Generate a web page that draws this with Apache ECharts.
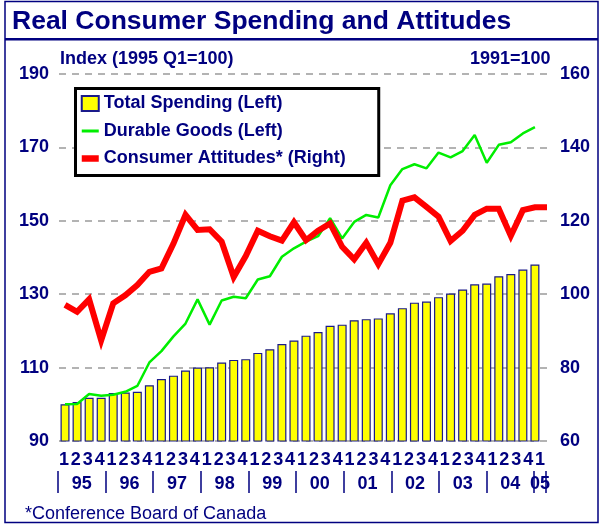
<!DOCTYPE html>
<html>
<head>
    <meta charset="utf-8" />
    <title>Real Consumer Spending and Attitudes</title>
    <script type="text/javascript" src="https://cdn.jsdelivr.net/npm/echarts@6/dist/echarts.min.js"></script>
    <style>
        html, body { margin: 0; padding: 0; background: #fff; }
        #chart { width: 603px; height: 525px; }
    </style>
</head>
<body>
    <div id="chart"></div>
    <script type="text/javascript">
        // quarters 1995 Q1 .. 2005 Q1
        var years = ['95', '96', '97', '98', '99', '00', '01', '02', '03', '04', '05'];
        var quarterLabels = ['1', '2', '3', '4'];

        // Total Spending (Left), index 1995 Q1 = 100
        var totalSpending = [100.0, 100.6, 101.8, 101.8, 103.1, 103.2, 103.4, 105.2, 106.9, 107.8,
            109.2, 110.0, 110.1, 111.4, 112.1, 112.3, 114.0, 115.0, 116.4, 117.4,
            118.7, 119.7, 121.4, 121.7, 122.9, 123.2, 123.4, 124.8, 126.2, 127.7,
            128.0, 129.2, 130.2, 131.3, 132.7, 132.9, 134.9, 135.5, 136.7, 138.1];
        // Durable Goods (Left)
        var durableGoods = [100.0, 100.1, 102.8, 102.3, 102.6, 103.4, 105.0, 111.4, 114.5, 118.5,
            122.0, 128.6, 121.7, 128.3, 129.3, 128.9, 134.0, 134.9, 140.2, 142.5,
            144.3, 145.8, 150.7, 145.2, 149.7, 151.6, 150.9, 159.7, 164.1, 165.4,
            164.3, 168.6, 167.3, 169.0, 173.4, 165.8, 170.7, 171.4, 173.8, 175.5];
        // Consumer Attitudes (Right), 1991 = 100
        var consumerAttitudes = [97.1, 95.2, 98.6, 87.4, 97.5, 99.7, 102.5, 106.1, 107.0, 113.8,
            121.6, 117.5, 117.7, 114.3, 104.7, 110.4, 117.3, 115.8, 114.6, 119.6,
            114.7, 117.3, 119.3, 112.9, 109.5, 114.0, 108.2, 114.0, 125.5, 126.4,
            123.8, 121.1, 114.5, 117.3, 121.6, 123.3, 123.3, 115.9, 122.9, 123.7, 123.7];

        var navy = '#000080';
        var font = 'Arial, "Liberation Sans", sans-serif';

        // category lists built from the labels above
        var categories = [];
        var qLabels = [];
        for (var y = 0; y < years.length; y++) {
            for (var q = 0; q < 4; q++) {
                if (y === years.length - 1 && q > 0) break;
                categories.push(years[y] + 'Q' + (q + 1));
                qLabels.push(quarterLabels[q]);
            }
        }
        // half-quarter slots for the year row (ticks between years, labels mid-year)
        var halfSlots = [];
        for (var i = 0; i <= categories.length * 2; i++) {
            var yi = Math.floor(i / 8);
            if (i % 8 === 4) halfSlots.push(years[yi]);
            else if (i === categories.length * 2 - 1) halfSlots.push(years[years.length - 1]);
            else halfSlots.push('');
        }
        var lastSlot = categories.length * 2;

        var myChart = echarts.init(document.getElementById('chart'));
        var option = {
            backgroundColor: '#ffffff',
            animation: false,
            textStyle: { fontFamily: font },
            grid: [
                { left: 59, right: 50, top: 74, bottom: 84 },
                { left: 58, right: 57, top: 74, bottom: 84 }
            ],
            legend: {
                orient: 'vertical',
                left: 75.5,
                top: 88.5,
                padding: [6, 33, 8, 3],
                itemWidth: 17,
                itemHeight: 15,
                itemGap: 9.5,
                backgroundColor: '#ffffff',
                borderColor: '#000000',
                borderWidth: 3,
                textStyle: { fontSize: 18, fontWeight: 'bold', color: navy, fontFamily: font },
                data: [
                    { name: 'Total Spending (Left)', icon: 'rect' },
                    { name: 'Durable Goods (Left)', itemStyle: { opacity: 0 }, lineStyle: { width: 3 } },
                    { name: 'Consumer Attitudes* (Right)', itemStyle: { opacity: 0 }, lineStyle: { width: 6.5 } }
                ]
            },
            xAxis: [{
                type: 'category',
                gridIndex: 0,
                data: categories,
                axisLine: { show: false },
                axisTick: { show: false },
                axisLabel: { show: false }
            }, {
                type: 'category',
                gridIndex: 1,
                data: qLabels,
                axisLine: { show: false },
                axisTick: { show: false },
                axisLabel: { interval: 0, margin: 10, fontSize: 18, fontWeight: 'bold', color: navy, fontFamily: font }
            }, {
                type: 'category',
                gridIndex: 1,
                data: halfSlots,
                boundaryGap: false,
                position: 'bottom',
                offset: 30,
                axisLine: { show: false },
                axisTick: {
                    length: 22,
                    interval: function (idx) { return idx % 8 === 0 || idx === lastSlot; },
                    lineStyle: { color: navy, width: 1.5 }
                },
                axisLabel: {
                    interval: function (idx, val) { return val !== ''; },
                    margin: 4,
                    fontSize: 18, fontWeight: 'bold', color: navy, fontFamily: font
                }
            }],
            yAxis: [{
                type: 'value',
                gridIndex: 0,
                min: 90, max: 190, interval: 20,
                axisLine: { show: false },
                axisTick: { show: false },
                axisLabel: { margin: 10, fontSize: 18, fontWeight: 'bold', color: navy, fontFamily: font },
                splitLine: { lineStyle: { color: '#9a9a9a', width: 1.5, type: [7, 6] } }
            }, {
                type: 'value',
                gridIndex: 0,
                position: 'right',
                min: 60, max: 160, interval: 20,
                axisLine: { show: false },
                axisTick: { show: false },
                axisLabel: { margin: 7, fontSize: 18, fontWeight: 'bold', color: navy, fontFamily: font },
                splitLine: { show: false }
            }, {
                type: 'value',
                gridIndex: 1,
                show: false
            }],
            series: [{
                name: 'Total Spending (Left)',
                type: 'bar',
                xAxisIndex: 0, yAxisIndex: 0,
                barWidth: 9,
                data: totalSpending,
                itemStyle: { color: '#ffff00', borderColor: '#1a1a8a', borderWidth: 1.2 }
            }, {
                name: 'Durable Goods (Left)',
                type: 'line',
                xAxisIndex: 0, yAxisIndex: 0,
                symbol: 'none',
                data: durableGoods,
                lineStyle: { color: '#00ee00', width: 2.5 },
                itemStyle: { color: '#00ee00' }
            }, {
                name: 'Consumer Attitudes* (Right)',
                type: 'line',
                xAxisIndex: 0, yAxisIndex: 1,
                symbol: 'none',
                data: consumerAttitudes,
                lineStyle: { color: '#ff0000', width: 6, join: 'miter' },
                itemStyle: { color: '#ff0000' }
            }],
            graphic: [
                { type: 'rect', shape: { x: 5, y: 1.5, width: 593, height: 521 }, style: { fill: null, stroke: navy, lineWidth: 1.5 }, silent: true },
                { type: 'rect', shape: { x: 5, y: 38, width: 593, height: 2.5 }, style: { fill: navy }, silent: true },
                { type: 'text', left: 12, top: 8, style: { text: 'Real Consumer Spending and Attitudes', fontSize: 26.5, fontWeight: 'bold', fontFamily: font, fill: navy } },
                { type: 'text', left: 60, top: 50, style: { text: 'Index (1995 Q1=100)', fontSize: 18, fontWeight: 'bold', fontFamily: font, fill: navy } },
                { type: 'text', left: 470, top: 50, style: { text: '1991=100', fontSize: 18, fontWeight: 'bold', fontFamily: font, fill: navy } },
                { type: 'text', left: 25, top: 505, style: { text: '*Conference Board of Canada', fontSize: 18, fontFamily: font, fill: navy } }
            ]
        };
        option && myChart.setOption(option);
    </script>
</body>
</html>
